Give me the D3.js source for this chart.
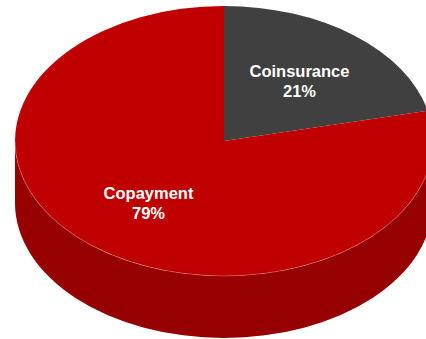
<!DOCTYPE html>
<html>
<head>
<meta charset="utf-8">
<script src="https://cdn.jsdelivr.net/npm/d3@7"></script>
<style>
  body { margin: 0; background: #fff; }
  svg { display: block; }
</style>
</head>
<body>
<svg id="chart" width="426" height="339"></svg>
<script>
// data
var categories = ["Coinsurance", "Copayment"]
var shares = [21.4, 78.6]
var topColors = ["#404040", "#c00000"]
var sideColors = ["#2a2a2a", "#960000"]

var cx = 224, cy = 141, rx = 209, ry = 135, depth = 62

var svg = d3.select("#chart")

// pie starting at 12 o'clock, clockwise
var pie = d3.pie().sort(null).value(function(d) { return d })
    .startAngle(0).endAngle(2 * Math.PI)
var slices = pie(shares)

function pt(t, dy) {
    return [cx + rx * Math.sin(t), cy + (dy || 0) - ry * Math.cos(t)]
}

// side walls: only the front half (pi/2 .. 3pi/2) is visible
slices.forEach(function(s, i) {
    var a0 = Math.max(s.startAngle, Math.PI / 2)
    var a1 = Math.min(s.endAngle, 3 * Math.PI / 2)
    if (a1 <= a0) return
    var p0 = pt(a0), p1 = pt(a1), q1 = pt(a1, depth), q0 = pt(a0, depth)
    var large = (a1 - a0) > Math.PI ? 1 : 0
    var d = "M" + p0 + " A" + rx + "," + ry + " 0 " + large + " 1 " + p1 +
        " L" + q1 + " A" + rx + "," + ry + " 0 " + large + " 0 " + q0 + " Z"
    svg.append("path").attr("d", d).attr("fill", sideColors[i])
})

// top faces
slices.forEach(function(s, i) {
    var p0 = pt(s.startAngle), p1 = pt(s.endAngle)
    var large = (s.endAngle - s.startAngle) > Math.PI ? 1 : 0
    var d = "M" + cx + "," + cy + " L" + p0 + " A" + rx + "," + ry + " 0 " + large + " 1 " + p1 + " Z"
    svg.append("path").attr("d", d).attr("fill", topColors[i])
})

// faint highlight on the front rim
svg.append("path")
    .attr("d", "M" + pt(Math.PI / 2) + " A" + rx + "," + ry + " 0 0 1 " + pt(3 * Math.PI / 2))
    .attr("fill", "none")
    .attr("stroke", "rgba(255,200,200,0.45)")
    .attr("stroke-width", 0.7)

// labels
slices.forEach(function(s, i) {
    var mid = (s.startAngle + s.endAngle) / 2
    var px = cx + 0.58 * rx * Math.sin(mid)
    var py = cy - 0.58 * ry * Math.cos(mid)
    var t = svg.append("text")
        .attr("text-anchor", "middle")
        .attr("fill", "#fff")
        .attr("font-family", "Liberation Sans, Arial, sans-serif")
        .attr("font-weight", "bold")
        .attr("font-size", 16.5)
    t.append("tspan").attr("x", px).attr("y", py - 3).text(categories[i])
    t.append("tspan").attr("x", px).attr("y", py + 17).text(Math.round(shares[i]) + "%")
})
</script>
</body>
</html>
